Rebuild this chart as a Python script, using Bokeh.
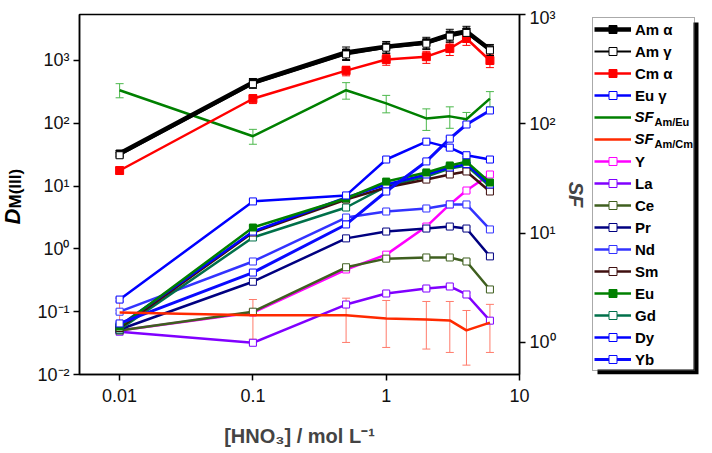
from math import pi
from bokeh.plotting import figure
from bokeh.layouts import row, column
from bokeh.models import (Range1d, LogAxis, FixedTicker, CustomJSTickFormatter, Legend,
                          LegendItem, Whisker, ColumnDataSource, TeeHead, Spacer)
from bokeh.core.properties import value
from bokeh.embed import file_html
from bokeh.resources import INLINE

FONT = "Liberation Sans"
NAN = float("nan")

# ---------------- data ----------------
hno3 = [0.01, 0.1, 0.5, 1, 2, 3, 4, 6]
x_ticks = [0.01, 0.1, 1, 10]
left_ticks = [0.01, 0.1, 1, 10, 100, 1000]
right_ticks = [1, 10, 100, 1000]

am_alpha = [33, 447, 1340, 1660, 1940, 2590, 2900, 1500]
am_alpha_err = [4, 70, 300, 350, 400, 550, 600, 300]
am_gamma = [31, 420, 1250, 1600, 1850, 2400, 2750, 1450]
am_gamma_err = [3, 60, 250, 300, 350, 450, 500, 250]
cm_alpha = [17.7, 246, 690, 1040, 1150, 1550, 2240, 1000]
cm_alpha_err = [2, 40, 120, 200, 250, 350, 500, 230]
eu_gamma = [0.156, 5.7, 7.1, 26.5, 51, 41, 31, 26.5]
sf_am_eu = [203, 77, 203, 154, 112, 117, 110, 170]
sf_am_eu_err = [30, 12, 35, 28, 25, 26, 17, 27]
sf_am_cm = [1.88, 1.77, 1.77, 1.66, 1.62, 1.59, 1.29, 1.52]
sf_am_cm_err = [0.65, 0.7, 0.77, 0.76, 0.75, 0.78, 0.67, 0.71]

d_y = [0.05, 0.097, 0.47, 0.81, 2.27, 5.1, 8.5, 15.3]
d_la = [0.048, 0.032, 0.13, 0.195, 0.234, 0.252, 0.188, 0.072]
d_ce = [0.05, 0.10, 0.51, 0.70, 0.73, 0.73, 0.63, 0.226]
d_pr = [0.052, 0.30, 1.47, 1.89, 2.11, 2.27, 2.11, 0.76]
d_nd = [0.10, 0.63, 3.16, 3.94, 4.4, 5.1, 5.1, 2.04]
d_sm = [0.055, 1.82, 6.12, 9.5, 12.7, 15.3, 17.1, 8.2]
d_eu = [0.058, 2.19, 6.35, 11.8, 16.5, 21.3, 24.5, 11.4]
d_gd = [0.052, 1.52, 4.56, 9.86, 14.2, 19.0, 21.3, 9.86]
d_dy = [0.06, 1.89, 6.58, 10.6, 15.3, 19.8, 22.4, 10.6]
d_yb = [0.065, 0.42, 2.45, 8.2, 24.7, 57, 95.7, 160]
ln_rel_err = 1.06  # small symmetric (multiplicative) error caps for the lanthanides

# key, legend label, values, colour, line width, filled, abs err, rel err, axis, marker, err colour, marker size
SERIES = [
    ("Y", "Y", d_y, "#FF00FF", 2.5, False, None, ln_rel_err, "default", True, None, 7),
    ("La", "La", d_la, "#8000FF", 2.5, False, None, ln_rel_err, "default", True, None, 7),
    ("Ce", "Ce", d_ce, "#3F5F1F", 2.5, False, None, ln_rel_err, "default", True, None, 7),
    ("Pr", "Pr", d_pr, "#000080", 2.5, False, None, ln_rel_err, "default", True, None, 7),
    ("Nd", "Nd", d_nd, "#3333FF", 2.5, False, None, ln_rel_err, "default", True, None, 7),
    ("Gd", "Gd", d_gd, "#00704A", 2.5, False, None, ln_rel_err, "default", True, None, 7),
    ("Sm", "Sm", d_sm, "#3F0F0F", 2.5, False, None, ln_rel_err, "default", True, None, 7),
    ("Dy", "Dy", d_dy, "#0000FF", 2.5, False, None, ln_rel_err, "default", True, None, 7),
    ("Eu", "Eu", d_eu, "#008000", 2.5, True, None, ln_rel_err, "default", True, None, 7),
    ("Yb", "Yb", d_yb, "#0A0AFF", 3.0, False, None, ln_rel_err, "default", True, None, 7),
    ("Eug", "Eu \u03b3", eu_gamma, "#0000FF", 2.5, False, None, ln_rel_err, "default", True, None, 7),
    ("SFeu", " ", sf_am_eu, "#008000", 2.5, False, sf_am_eu_err, None, "sf", False, "#4CB84C", 7),
    ("SFcm", "  ", sf_am_cm, "#FF2A00", 2.5, False, sf_am_cm_err, None, "sf", False, "#FF7B6B", 7),
    ("Cma", "Cm \u03b1", cm_alpha, "#FF0000", 2.5, True, cm_alpha_err, None, "default", True, None, 8),
    ("Ama", "Am \u03b1", am_alpha, "#000000", 4.5, True, am_alpha_err, None, "default", True, None, 7),
    ("Amg", "Am \u03b3", am_gamma, "#000000", 2.0, False, am_gamma_err, None, "default", True, None, 7),
]
legend_order = ["Ama", "Amg", "Cma", "Eug", "SFeu", "SFcm", "Y", "La", "Ce", "Pr", "Nd",
                "Sm", "Eu", "Gd", "Dy", "Yb"]
sf_rows = {"SFeu": "Am/Eu", "SFcm": "Am/Cm"}

FH, BT, BB = 360, 7, 77          # frame height, top / bottom borders shared by all panels
TW, LW = 26, 109                 # widths of the title strip and the legend strip

# ---------------- main figure ----------------
p = figure(frame_width=440, frame_height=FH, x_axis_type="log", y_axis_type="log",
           x_range=Range1d(0.005, 10), y_range=Range1d(0.01, 5400),
           output_backend="svg", toolbar_location=None,
           min_border_left=79 - TW, min_border_right=72, min_border_top=BT, min_border_bottom=BB)
p.extra_y_ranges = {"sf": Range1d(0.509, 1000)}
p.grid.visible = False
p.outline_line_color = "black"
p.outline_line_width = 1.5

sup_code = """
const s = {'-':'\u207b','0':'\u2070','1':'\u00b9','2':'\u00b2','3':'\u00b3','4':'\u2074','5':'\u2075','6':'\u2076','7':'\u2077','8':'\u2078','9':'\u2079'};
const e = Math.round(Math.log10(tick));
return '10' + String(e).split('').map(c => s[c]).join('');
"""

def style_axis(ax):
    ax.axis_line_color = "black"
    ax.axis_line_width = 1.5
    ax.major_tick_line_color = "black"
    ax.major_tick_line_width = 1.5
    ax.major_tick_out = 6
    ax.major_tick_in = 0
    ax.minor_tick_line_color = None
    ax.major_label_text_font = FONT
    ax.major_label_text_font_size = "18px"
    ax.major_label_text_color = "#111111"

xa = p.xaxis[0]
xa.ticker = FixedTicker(ticks=x_ticks)
xa.formatter = CustomJSTickFormatter(code="return tick.toString();")
style_axis(xa)
xa.major_label_standoff = 8
xa.axis_label = "[HNO\u2083] / mol L\u207b\u00b9"
xa.axis_label_text_font = FONT
xa.axis_label_text_font_style = "bold"
xa.axis_label_text_font_size = "20px"
xa.axis_label_standoff = 20

ya = p.yaxis[0]
ya.ticker = FixedTicker(ticks=left_ticks)
ya.formatter = CustomJSTickFormatter(code=sup_code)
style_axis(ya)
ya.major_label_standoff = 4

ra = LogAxis(y_range_name="sf", ticker=FixedTicker(ticks=right_ticks),
             formatter=CustomJSTickFormatter(code=sup_code), axis_label="SF")
style_axis(ra)
ra.major_label_standoff = 4
ra.axis_label_text_font = FONT
ra.axis_label_text_font_style = "bold italic"
ra.axis_label_text_font_size = "20px"
ra.axis_label_standoff = 6
p.add_layout(ra, "right")

for key, lab, vals, color, lw, filled, err, rel, rng, mk, ecol, ms in SERIES:
    src = ColumnDataSource(dict(x=hno3, y=vals))
    if err is not None:
        up = [v + e for v, e in zip(vals, err)]
        lo = [v - e for v, e in zip(vals, err)]
    else:
        up = [v * rel for v in vals]
        lo = [v / rel for v in vals]
    ec = ecol or color
    p.add_layout(Whisker(source=ColumnDataSource(dict(x=hno3, u=up, l=lo)), base="x", upper="u",
                         lower="l", line_color=ec, line_width=1, y_range_name=rng,
                         upper_head=TeeHead(size=8, line_color=ec, line_width=1),
                         lower_head=TeeHead(size=8, line_color=ec, line_width=1)))
    p.line("x", "y", source=src, line_color=color, line_width=lw, y_range_name=rng)
    if mk:
        p.scatter("x", "y", source=src, marker="square", size=ms, line_color=color, line_width=1,
                  fill_color=color if filled else "white", y_range_name=rng)

# strips use pixel-like data coords: y = (frame bottom) - canvas_y
YB = BT + FH

# ---------------- left strip with the y-axis title D_M(III) ----------------
yt = figure(frame_width=TW, frame_height=FH, x_range=Range1d(0, TW), y_range=Range1d(0, FH),
            x_axis_type=None, y_axis_type=None, output_backend="svg", toolbar_location=None,
            min_border_left=0, min_border_right=0, min_border_top=BT, min_border_bottom=BB,
            outline_line_color=None)
yt.grid.visible = False
yt.text(x=[12], y=[YB - 217], text=["D"], angle=pi / 2, text_align="left", text_baseline="middle",
        text_font=value(FONT), text_font_style="bold italic", text_font_size="22px", text_color="black")
yt.text(x=[15], y=[YB - 201], text=["M(III)"], angle=pi / 2, text_align="left", text_baseline="middle",
        text_font=value(FONT), text_font_style="bold", text_font_size="17px", text_color="black")

# ---------------- right strip with the legend ----------------
lg = figure(frame_width=LW, frame_height=FH, x_range=Range1d(0, LW), y_range=Range1d(0, FH),
            x_axis_type=None, y_axis_type=None, output_backend="svg", toolbar_location=None,
            min_border_left=0, min_border_right=0, min_border_top=BT, min_border_bottom=BB,
            outline_line_color=None)
lg.grid.visible = False

GW, GH, SP, PAD, MARG, STAND, LABW = 37, 20, 2, 1, 3, 4, 58
n_rows = len(legend_order)
box_w = PAD + GW + STAND + LABW + PAD
box_h = n_rows * GH + (n_rows - 1) * SP + 2 * PAD
box_top = FH - MARG
box_left = 1
# drop shadow, then the white box (legend itself has a transparent background)
lg.quad(left=[box_left + 5], right=[box_left + box_w + 5], top=[box_top - 5],
        bottom=[box_top - box_h - 5], fill_color="black", line_color=None)
lg.quad(left=[box_left], right=[box_left + box_w], top=[box_top], bottom=[box_top - box_h],
        fill_color="white", line_color=None)

# italic SF with subscripts for the two separation-factor rows
lab_x = box_left + PAD + GW + STAND
for key, sub in sf_rows.items():
    i = legend_order.index(key)
    yc = box_top - PAD - i * (GH + SP) - GH / 2
    lg.text(x=[lab_x], y=[yc], text=["SF"], text_align="left", text_baseline="middle",
            text_font=value(FONT), text_font_style="bold italic", text_font_size="15px",
            text_color="black")
    lg.text(x=[lab_x + 20], y=[yc - 5], text=[sub], text_align="left", text_baseline="middle",
            text_font=value(FONT), text_font_style="bold", text_font_size="11px",
            text_color="black")

proxies = {}
for key, lab, vals, color, lw, filled, err, rel, rng, mk, ecol, ms in SERIES:
    rs = [lg.line(x=[NAN], y=[NAN], line_color=color, line_width=lw)]
    if mk:
        rs.append(lg.scatter(x=[NAN], y=[NAN], marker="square", size=ms, line_color=color,
                             line_width=1, fill_color=color if filled else "white"))
    proxies[key] = (lab, rs)

legend = Legend(items=[LegendItem(label=proxies[k][0], renderers=proxies[k][1]) for k in legend_order],
                location=(box_left, MARG), orientation="vertical",
                glyph_width=GW, glyph_height=GH, label_height=GH, label_width=LABW,
                spacing=SP, padding=PAD, margin=0, label_standoff=STAND,
                border_line_color="#555555", border_line_width=1,
                background_fill_alpha=0,
                label_text_font=FONT, label_text_font_style="bold",
                label_text_font_size="15px", label_text_color="black")
lg.add_layout(legend)

layout = column(Spacer(height=7), row(yt, p, lg, spacing=0), spacing=0)
open("out.html", "w").write(file_html(layout, INLINE))
